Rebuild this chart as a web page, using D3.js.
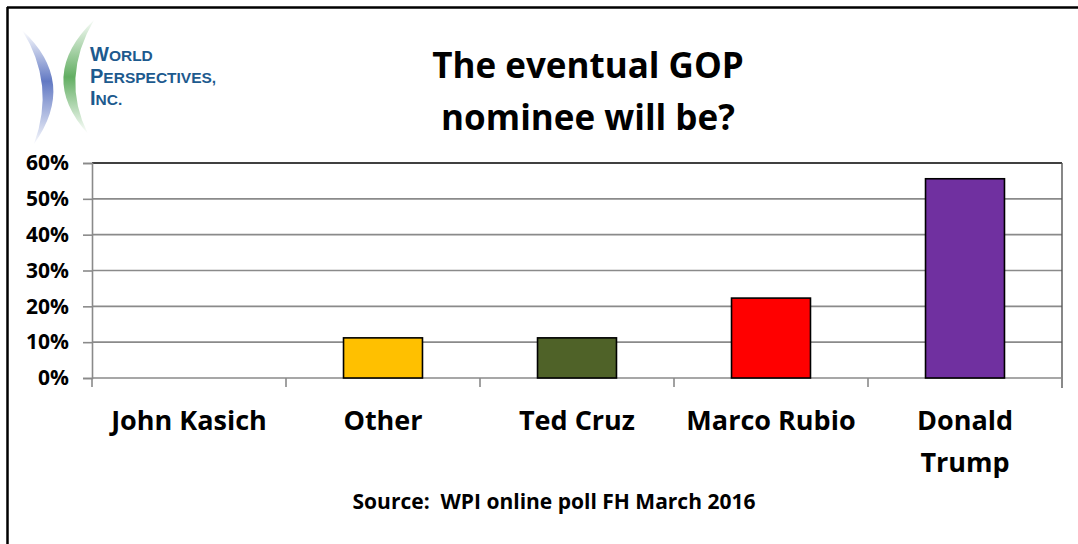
<!DOCTYPE html>
<html>
<head>
<meta charset="utf-8">
<script src="https://cdn.jsdelivr.net/npm/d3@7/dist/d3.min.js"></script>
<style>
  html, body { margin: 0; padding: 0; background: #fff; }
  svg { display: block; }
  text { font-family: "Open Sans", "DejaVu Sans", sans-serif; font-weight: bold; white-space: pre; }
</style>
</head>
<body>
<svg id="chart" width="1078" height="544"></svg>
<script>
// ---- data ----
const categories = ["John Kasich", "Other", "Ted Cruz", "Marco Rubio", "Donald Trump"];
const labelLines = [["John Kasich"], ["Other"], ["Ted Cruz"], ["Marco Rubio"], ["Donald", "Trump"]];
const values = [0, 0.112, 0.112, 0.223, 0.556];
const barColors = ["#FFFFFF", "#FFC000", "#4F6228", "#FF0000", "#7030A0"];
const yTicks = [0, 0.1, 0.2, 0.3, 0.4, 0.5, 0.6];
const titleLines = ["The eventual GOP", "nominee will be?"];
const sourceText = "Source:  WPI online poll FH March 2016";

const svg = d3.select("#chart");

// outer frame (top and left edges visible)
svg.append("line").attr("x1", 7).attr("x2", 1078).attr("y1", 7.5).attr("y2", 7.5)
  .attr("stroke", "#000").attr("stroke-width", 2.5);
svg.append("line").attr("x1", 7.5).attr("x2", 7.5).attr("y1", 7).attr("y2", 544)
  .attr("stroke", "#000").attr("stroke-width", 2.5);

// ---- logo ----
const defs = svg.append("defs");
const gb = defs.append("linearGradient").attr("id", "gBlue").attr("x1", 0).attr("y1", 0).attr("x2", 0).attr("y2", 1);
gb.append("stop").attr("offset", "0%").attr("stop-color", "#5a72c0").attr("stop-opacity", 0);
gb.append("stop").attr("offset", "45%").attr("stop-color", "#5a72c0").attr("stop-opacity", 0.95);
gb.append("stop").attr("offset", "100%").attr("stop-color", "#5a72c0").attr("stop-opacity", 0.05);
const gg = defs.append("linearGradient").attr("id", "gGreen").attr("x1", 0).attr("y1", 0).attr("x2", 0).attr("y2", 1);
gg.append("stop").attr("offset", "0%").attr("stop-color", "#5aaa5a").attr("stop-opacity", 0.05);
gg.append("stop").attr("offset", "50%").attr("stop-color", "#5aaa5a").attr("stop-opacity", 0.95);
gg.append("stop").attr("offset", "100%").attr("stop-color", "#5aaa5a").attr("stop-opacity", 0);

const logo = svg.append("g");
// blue ")" crescent
logo.append("path")
  .attr("d", "M22,30 Q78,82 34,144 Q56,84 22,30 Z")
  .attr("fill", "url(#gBlue)");
// green "(" crescent
logo.append("path")
  .attr("d", "M94,20 Q36,76 88,134 Q60,78 94,20 Z")
  .attr("fill", "url(#gGreen)");

const logoText = [["W", "ORLD"], ["P", "ERSPECTIVES,"], ["I", "NC."]];
logoText.forEach((t, i) => {
  const tx = logo.append("text").attr("x", 90).attr("y", 61 + i * 22)
    .attr("fill", "#1d5a8e").style("font-family", "'Liberation Sans', sans-serif");
  tx.append("tspan").attr("font-size", 20).text(t[0]);
  tx.append("tspan").attr("font-size", 15.5).text(t[1]);
});

// ---- title ----
svg.selectAll("text.title").data(titleLines).enter().append("text")
  .attr("class", "title")
  .attr("x", 588).attr("y", (d, i) => 78 + i * 52)
  .attr("text-anchor", "middle").attr("font-size", 35).attr("fill", "#000")
  .text(d => d);

// ---- scales ----
const x = d3.scaleBand().domain(categories).range([92, 1062]).paddingInner(0.593).paddingOuter(0.2965);
const y = d3.scaleLinear().domain([0, 0.6]).range([378, 163]);

// gridlines
svg.append("g").selectAll("line").data(yTicks.slice(1, -1)).enter().append("line")
  .attr("x1", 92).attr("x2", 1062).attr("y1", d => y(d)).attr("y2", d => y(d))
  .attr("stroke", "#8a8a8a").attr("stroke-width", 1.6);
// top border of plot (black)
svg.append("line").attr("x1", 92).attr("x2", 1062).attr("y1", y(0.6)).attr("y2", y(0.6))
  .attr("stroke", "#000").attr("stroke-width", 1.6);
// right border
svg.append("line").attr("x1", 1062).attr("x2", 1062).attr("y1", y(0.6)).attr("y2", y(0) + 10)
  .attr("stroke", "#555").attr("stroke-width", 1.4);

// y axis
const yAxis = svg.append("g").attr("transform", "translate(92,0)")
  .call(d3.axisLeft(y).tickValues(yTicks).tickFormat(d3.format(".0%")).tickSize(9).tickPadding(14));
yAxis.select(".domain").attr("stroke", "#8a8a8a").attr("stroke-width", 1.6);
yAxis.selectAll(".tick line").attr("stroke", "#8a8a8a").attr("stroke-width", 1.6);
yAxis.selectAll(".tick text").attr("font-size", 21).attr("fill", "#000")
  .style("font-family", "'Open Sans', sans-serif").attr("font-weight", "bold");

// x axis (boundary ticks)
const boundaries = categories.map(c => x(c) - x.step() * x.paddingInner() / 2);
boundaries.push(1062);
svg.append("line").attr("x1", 92).attr("x2", 1062).attr("y1", y(0)).attr("y2", y(0))
  .attr("stroke", "#8a8a8a").attr("stroke-width", 1.6);
svg.append("g").selectAll("line").data(boundaries).enter().append("line")
  .attr("x1", d => d).attr("x2", d => d).attr("y1", y(0)).attr("y2", y(0) + 9)
  .attr("stroke", "#8a8a8a").attr("stroke-width", 1.6);

// bars
svg.append("g").selectAll("rect").data(categories).enter()
  .filter((d, i) => values[i] > 0)
  .append("rect")
  .attr("x", d => x(d)).attr("width", x.bandwidth())
  .attr("y", d => y(values[categories.indexOf(d)]))
  .attr("height", d => y(0) - y(values[categories.indexOf(d)]))
  .attr("fill", d => barColors[categories.indexOf(d)])
  .attr("stroke", "#000").attr("stroke-width", 1.6);

// category labels
categories.forEach((c, i) => {
  const t = svg.append("text").attr("x", x(c) + x.bandwidth() / 2).attr("y", 430)
    .attr("text-anchor", "middle").attr("font-size", 27).attr("fill", "#000");
  labelLines[i].forEach((ln, j) => {
    t.append("tspan").attr("x", x(c) + x.bandwidth() / 2).attr("dy", j === 0 ? 0 : 42).text(ln);
  });
});

// source
svg.append("text").attr("x", 554).attr("y", 509).attr("text-anchor", "middle")
  .attr("font-size", 21).attr("fill", "#000").text(sourceText);
</script>
</body>
</html>
